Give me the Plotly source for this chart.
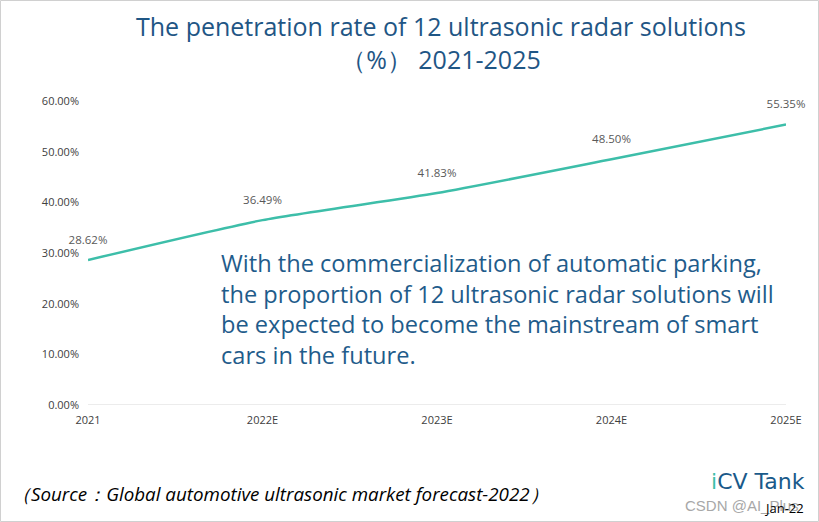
import plotly.graph_objects as go

years = ["2021", "2022E", "2023E", "2024E", "2025E"]
rates = [28.62, 36.49, 41.83, 48.50, 55.35]
rate_labels = ["28.62%", "36.49%", "41.83%", "48.50%", "55.35%"]
y_ticks = [0, 10, 20, 30, 40, 50, 60]
y_tick_labels = ["0.00%", "10.00%", "20.00%", "30.00%", "40.00%", "50.00%", "60.00%"]

W, H = 819, 522
L, R, T, B = 88, 33, 101, 117
pw, ph = W - L - R, H - T - B

def px(x):
    return (x - L) / pw

def py(y):
    return 1 - (y - T) / ph

fig = go.Figure()
fig.add_trace(go.Scatter(
    x=years, y=rates, mode="lines+markers+text",
    line=dict(color="#3dbea9", width=2.5, shape="spline", smoothing=0.6),
    marker=dict(size=20, color="rgba(0,0,0,0)"),
    text=rate_labels, textposition="top center",
    textfont=dict(size=11.5, color="#595959", family="Open Sans"),
    cliponaxis=False, hoverinfo="skip", showlegend=False,
))

title_color = "#1f5685"
fig.update_layout(
    width=W, height=H,
    margin=dict(l=L, r=R, t=T, b=B),
    paper_bgcolor="white", plot_bgcolor="white",
    font=dict(family="Open Sans", color="#404040"),
    xaxis=dict(type="category", range=[0, 4], showgrid=False, zeroline=False,
               showline=False, ticks="", ticklabelstandoff=7,
               tickfont=dict(size=11, color="#404040")),
    yaxis=dict(range=[0, 60], tickvals=y_ticks, ticktext=y_tick_labels,
               showgrid=False, zeroline=False, showline=False, ticks="",
               ticklabelstandoff=8,
               tickfont=dict(size=11, color="#404040")),
    annotations=[
        dict(text="The penetration rate of 12 ultrasonic radar solutions<br>（%） 2021-2025",
             xref="paper", yref="paper", x=px(441), y=py(42), xanchor="center", yanchor="middle",
             showarrow=False, font=dict(size=25, color=title_color, family="Open Sans")),
        dict(text="With the commercialization of automatic parking,<br>the proportion of 12 ultrasonic radar solutions will<br>be expected to become the mainstream of smart<br>cars in the future.",
             xref="paper", yref="paper", x=px(219), y=py(309), xanchor="left", yanchor="middle",
             align="left", showarrow=False,
             font=dict(size=23.6, color="#1f5c8b", family="Open Sans")),
        dict(text="<i>（Source：Global automotive ultrasonic market forecast-2022）</i>",
             xref="paper", yref="paper", x=px(10), y=py(494), xanchor="left", yanchor="middle",
             showarrow=False, font=dict(size=18.8, color="#000000", family="Open Sans")),
        dict(text="<span style='color:#3dbea9'>i</span>CV Tank",
             xref="paper", yref="paper", x=px(807), y=py(481), xanchor="right", yanchor="middle",
             showarrow=False, font=dict(size=22, color="#1a5a8a", family="DejaVu Sans")),
        dict(text="CSDN @AI_Plus",
             xref="paper", yref="paper", x=px(801), y=py(506), xanchor="right", yanchor="middle",
             showarrow=False, font=dict(size=15, color="#a8a8a8", family="Liberation Sans")),
        dict(text="Jan-22",
             xref="paper", yref="paper", x=px(806), y=py(508), xanchor="right", yanchor="middle",
             showarrow=False, font=dict(size=13, color="#000000", family="Open Sans")),
    ],
    shapes=[
        dict(type="line", xref="paper", yref="y", x0=0, x1=1, y0=0, y1=0,
             line=dict(color="#d9d9d9", width=1)),
        dict(type="rect", xref="paper", yref="paper",
             x0=px(0.5), x1=px(818.5), y0=py(521.5), y1=py(0.5),
             line=dict(color="#d0d0d0", width=1)),
    ],
)

fig.write_html("out.html", config={"displayModeBar": False},
               post_script="document.body.style.margin='0';document.body.style.overflow='hidden';")
